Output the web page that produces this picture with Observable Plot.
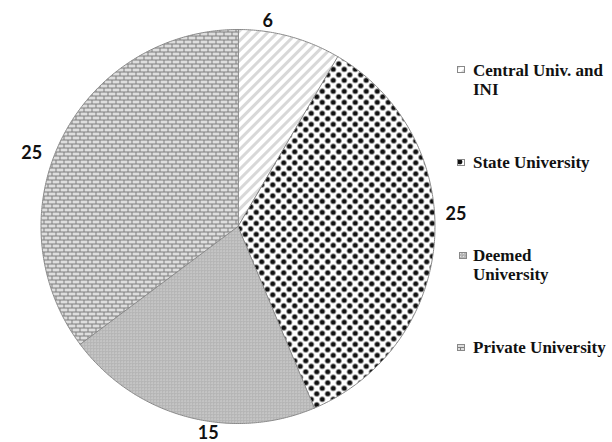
<!DOCTYPE html>
<html>
<head>
<meta charset="utf-8">
<script src="https://cdn.jsdelivr.net/npm/d3@7"></script>
<script src="https://cdn.jsdelivr.net/npm/@observablehq/plot@0.6"></script>
<style>
  html, body { margin: 0; padding: 0; background: #fff; }
  #wrap { position: relative; width: 612px; height: 442px; overflow: hidden; }
  #legend { position: absolute; left: 0; top: 0; width: 612px; height: 442px; pointer-events: none;
    font-family: "Liberation Serif", "DejaVu Serif", serif; font-weight: bold; font-size: 17px; color: #111; }
  .item { position: absolute; left: 473px; line-height: 19px; white-space: nowrap; }
  .sw { position: absolute; left: 457px; width: 8px; height: 7px; }
</style>
</head>
<body>
<div id="wrap"><div id="chart"></div><div id="legend"></div></div>
<script>
const categories = ["Central Univ. and INI", "State University", "Deemed University", "Private University"];
const legendLines = [["Central Univ. and", "INI"], ["State University"], ["Deemed", "University"], ["Private University"]];
const values = [6, 25, 15, 25];
const patternIds = ["pStripes", "pDots", "pMesh", "pBrick"];

const defsHTML = `
<pattern id="pStripes" patternUnits="userSpaceOnUse" width="7" height="7" patternTransform="rotate(45)">
  <rect width="7" height="7" fill="#ffffff"/>
  <rect x="0" y="0" width="3" height="7" fill="#d8d8d8"/>
</pattern>
<pattern id="pDots" patternUnits="userSpaceOnUse" width="11" height="11">
  <rect width="11" height="11" fill="#ffffff"/>
  <circle cx="2.75" cy="2.75" r="2.6" fill="#111"/>
  <circle cx="8.25" cy="8.25" r="2.6" fill="#111"/>
</pattern>
<pattern id="pMesh" patternUnits="userSpaceOnUse" width="3" height="3">
  <rect width="3" height="3" fill="#b9b9b9"/>
  <rect x="1" y="1" width="1" height="1" fill="#e4e4e4"/>
  <rect x="0" y="0" width="1" height="1" fill="#a8a8a8"/>
</pattern>
<pattern id="pBrick" patternUnits="userSpaceOnUse" width="8" height="8">
  <rect width="8" height="8" fill="#7e7e7e"/>
  <rect x="0" y="0" width="7" height="3" fill="#dedede"/>
  <rect x="0" y="4" width="3" height="3" fill="#dedede"/>
  <rect x="4" y="4" width="4" height="3" fill="#dedede"/>
</pattern>`;

// pie geometry in unit space (screen orientation: y down), radius in px
const R = 197;
const arcs = d3.pie().sort(null).value(d => d)(values);
function pt(a, r = R) { return [r * Math.sin(a), -r * Math.cos(a)]; }
const sliceFeatures = arcs.map((a, i) => {
  const n = Math.max(8, Math.ceil((a.endAngle - a.startAngle) / 0.01));
  const ring = [[0, 0]];
  for (let k = 0; k <= n; k++) ring.push(pt(a.startAngle + (a.endAngle - a.startAngle) * k / n));
  ring.push([0, 0]);
  return { type: "Feature", properties: { name: categories[i] }, geometry: { type: "Polygon", coordinates: [ring] } };
});
const circleRing = d3.range(0, 361).map(k => pt(k * Math.PI / 180));
const domain = { type: "Polygon", coordinates: [circleRing] };

// outside-end data labels: padded label box touches a ring just outside the pie
const labelFont = 18, labelGap = 3, labelTurn = -7 * Math.PI / 180;
const labels = arcs.map((a, i) => {
  const t = String(values[i]);
  const m = (a.startAngle + a.endAngle) / 2 + labelTurn;
  const w = t.length * labelFont * 1.0, h = labelFont * 0.7;
  const d = R + labelGap + (w / 2) * Math.abs(Math.sin(m)) + (h / 2) * Math.abs(Math.cos(m));
  const [x, y] = pt(m, d);
  return { x, y, text: t };
});

const plot = Plot.plot({
  width: 612,
  height: 442,
  marginLeft: 40,
  marginRight: 177,
  marginTop: 29,
  marginBottom: 19,
  projection: { type: "identity", domain, clip: false },
  marks: [
    ...sliceFeatures.map((f, i) => Plot.geo([f], { fill: `url(#${patternIds[i]})`, stroke: "#8a8a8a", strokeWidth: 1 })),
    Plot.text(labels, { x: "x", y: "y", text: "text", fontSize: labelFont, fontWeight: "bold", fontFamily: "Lato, 'Open Sans', sans-serif", fill: "#111" })
  ]
});
d3.select(plot).insert("defs", ":first-child").html(defsHTML);
document.getElementById("chart").appendChild(plot);

// legend
const legendTops = [61, 153, 246, 338];
const swTops = [66, 159, 252, 344];
const lg = d3.select("#legend");
categories.forEach((c, i) => {
  lg.append("div").attr("class", "item").style("top", legendTops[i] + "px").html(legendLines[i].join("<br>"));
  const s = lg.append("svg").attr("class", "sw").attr("width", 8).attr("height", 7)
    .style("top", swTops[i] + "px").style("left", (i === 2 ? 459 : 457) + "px");
  s.append("defs").html(defsHTML.replaceAll('id="p', `id="L${i}p`));
  s.append("rect").attr("x", 0.5).attr("y", 0.5).attr("width", 7).attr("height", 6)
    .attr("fill", `url(#L${i}${patternIds[i]})`).attr("stroke", "#888").attr("stroke-width", 1);
});
</script>
</body>
</html>
